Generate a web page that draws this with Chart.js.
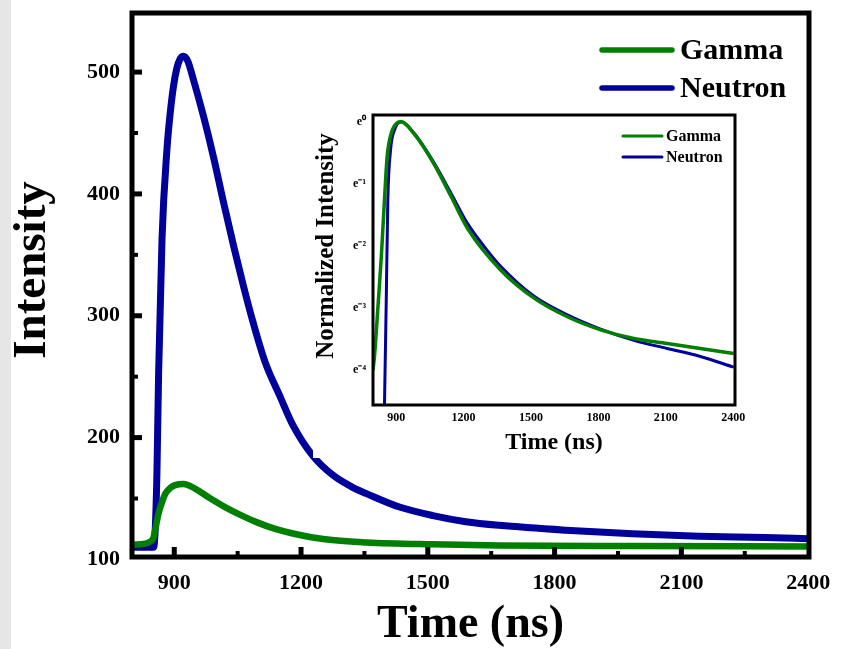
<!DOCTYPE html>
<html>
<head>
<meta charset="utf-8">
<script src="https://cdn.jsdelivr.net/npm/chart.js@4.4.0/dist/chart.umd.min.js"></script>
<style>
body { margin:0; background:#fff; }
#wrap { position:relative; width:846px; height:649px; background:linear-gradient(to right, #e6e6e6 0, #e6e6e6 11px, #fff 11px); }
#main { position:absolute; left:0; top:0; }
#inset { position:absolute; left:313px; top:100px; background:#fff; }
</style>
</head>
<body>
<div id="wrap">
<canvas id="main" width="846" height="649"></canvas>
<canvas id="inset" width="447" height="358"></canvas>
</div>
<script>
// main plot, raw intensity
var gammaTime = [800, 831, 845, 851, 857, 863, 871, 879, 890, 902, 922, 950, 981, 1020, 1060, 1099, 1139, 1178, 1257, 1355, 1512, 1669, 1984, 2402];
var gammaValues = [112, 113, 115, 118, 128, 138, 147, 154, 158.5, 161, 162, 158, 151, 143, 136, 130, 125, 121.5, 116.5, 114, 112.4, 111.5, 111, 110.7];
var neutronTime = [800, 851, 855, 859, 863, 871, 883, 890, 898, 906, 914, 922, 932, 946, 969, 993, 1016, 1040, 1064, 1087, 1115, 1150, 1181, 1228, 1276, 1323, 1355, 1433, 1512, 1590, 1669, 1827, 1984, 2142, 2299, 2402];
var neutronValues = [110, 110, 125, 171, 253, 363, 438, 465, 488, 503, 511, 513, 509, 493, 464, 430, 394, 358, 324, 294, 262, 234, 210, 185, 169, 159, 154, 143, 136, 131, 128, 124, 121, 119, 118, 117];
var xTicks = [900, 1200, 1500, 1800, 2100, 2400];
var xMinor = [1050, 1350, 1650, 1950, 2250];
var yTicks = [100, 200, 300, 400, 500];
var yMinor = [150, 250, 350, 450];

// inset, ln of normalized intensity
var insetGammaTime = [797, 804, 819, 834, 848, 860, 878, 908, 922, 981, 1070, 1144, 1218, 1366, 1514, 1662, 1810, 1958, 2106, 2254, 2402];
var insetGammaValues = [-4.0, -3.76, -2.98, -2.17, -1.26, -0.56, -0.19, -0.01, 0, -0.2, -0.69, -1.2, -1.72, -2.39, -2.84, -3.14, -3.35, -3.49, -3.57, -3.65, -3.73];
var insetNeutronTime = [846, 856, 863, 875, 893, 922, 981, 1070, 1144, 1218, 1292, 1366, 1514, 1662, 1810, 1958, 2106, 2254, 2402];
var insetNeutronValues = [-5, -2.87, -1.26, -0.46, -0.13, 0, -0.19, -0.67, -1.15, -1.64, -2.01, -2.33, -2.81, -3.11, -3.34, -3.52, -3.65, -3.78, -3.95];
var insetYTicks = [0, -1, -2, -3, -4];

var GREEN = '#007f00';
var BLUE = '#00009a';
var SERIF = "'Liberation Serif', 'Times New Roman', serif";

function pairs(xs, ys) {
  var out = [];
  for (var i = 0; i < xs.length; i++) out.push({x: xs[i], y: ys[i]});
  return out;
}

function sup(v) {
  var map = {'0':'\u2070','1':'\u00b9','2':'\u00b2','3':'\u00b3','4':'\u2074','-':'\u207b'};
  var s = String(v), r = '';
  for (var i = 0; i < s.length; i++) r += map[s[i]];
  return r;
}

function noPad(s) { s.paddingTop = 0; s.paddingBottom = 0; s.paddingLeft = 0; s.paddingRight = 0; }

// box round the plot area + inward ticks
var framePlugin = {
  id: 'frame',
  afterDatasetsDraw: function(chart, args, o) {
    var ctx = chart.ctx, a = chart.chartArea;
    ctx.save();
    ctx.fillStyle = '#000';
    if (o.ticks) {
      var sx = chart.scales.x, sy = chart.scales.y;
      o.yMajor.forEach(function(v) {
        var y = sy.getPixelForValue(v);
        if (y < a.bottom - 3) ctx.fillRect(a.left, y - 2.5, 10, 5);
      });
      o.yMinor.forEach(function(v) {
        var y = sy.getPixelForValue(v);
        ctx.fillRect(a.left, y - 2, 6, 4);
      });
      o.xMajor.forEach(function(v) {
        var x = sx.getPixelForValue(v);
        if (x < a.right - 3) ctx.fillRect(x - 2.5, a.bottom - 10, 5, 10);
      });
      o.xMinor.forEach(function(v) {
        var x = sx.getPixelForValue(v);
        ctx.fillRect(x - 2, a.bottom - 6, 4, 6);
      });
    }
    ctx.strokeStyle = '#000';
    ctx.lineWidth = o.width;
    ctx.strokeRect(a.left, a.top, a.right - a.left, a.bottom - a.top);
    ctx.restore();
  }
};

var legendPlugin = {
  id: 'lineLegend',
  afterDraw: function(chart, args, o) {
    var ctx = chart.ctx;
    ctx.save();
    ctx.font = o.font;
    ctx.textBaseline = 'middle';
    ctx.lineCap = 'round';
    chart.data.datasets.forEach(function(ds, i) {
      var y = o.y + i * o.rowH;
      ctx.strokeStyle = ds.borderColor;
      ctx.lineWidth = o.lineWidth;
      ctx.beginPath();
      ctx.moveTo(o.x, y);
      ctx.lineTo(o.x + o.len, y);
      ctx.stroke();
      ctx.fillStyle = '#000';
      ctx.fillText(ds.label, o.x + o.len + o.gap, y + 1);
    });
    // rotated y title, sits a bit above the middle of the axis
    ctx.translate(o.titleX, o.titleY);
    ctx.rotate(-Math.PI / 2);
    ctx.font = o.titleFont;
    ctx.textAlign = 'center';
    ctx.fillText(o.title, 0, 0);
    ctx.restore();
  }
};

var mainChart = new Chart(document.getElementById('main'), {
  type: 'line',
  data: {
    datasets: [
      { label: 'Gamma', data: pairs(gammaTime, gammaValues), borderColor: GREEN, borderWidth: 6.5, pointRadius: 0, cubicInterpolationMode: 'monotone' },
      { label: 'Neutron', data: pairs(neutronTime, neutronValues), borderColor: BLUE, borderWidth: 7, pointRadius: 0, cubicInterpolationMode: 'monotone' }
    ]
  },
  options: {
    responsive: false,
    animation: false,
    layout: { padding: { top: 13, right: 37, left: 0, bottom: 0 } },
    plugins: {
      legend: { display: false },
      tooltip: { enabled: false },
      frame: { width: 5, ticks: true, xMajor: xTicks, xMinor: xMinor, yMajor: yTicks, yMinor: yMinor },
      lineLegend: { x: 602, y: 50, rowH: 38, len: 70, gap: 8, lineWidth: 5.5, font: 'bold 30px ' + SERIF,
        title: 'Intensity', titleX: 33, titleY: 270, titleFont: 'bold 47px ' + SERIF }
    },
    scales: {
      x: {
        type: 'linear', min: 800, max: 2402,
        afterBuildTicks: function(s) { s.ticks = xTicks.map(function(v) { return {value: v}; }); },
        afterFit: function(s) { s.height = 92; noPad(s); },
        grid: { display: false, drawTicks: false },
        border: { display: false },
        ticks: { autoSkip: false, maxRotation: 0, padding: 13, color: '#000', font: { family: SERIF, size: 22, weight: 'bold' },
          callback: function(v) { return String(v); } },
        title: { display: true, text: 'Time (ns)', color: '#000', padding: { top: 0, bottom: -4 }, font: { family: SERIF, size: 46, weight: 'bold', lineHeight: 1.2 } }
      },
      y: {
        type: 'linear', min: 102, max: 548.5,
        afterBuildTicks: function(s) { s.ticks = yTicks.map(function(v) { return {value: v}; }); },
        afterFit: function(s) { s.width = 132; noPad(s); },
        grid: { display: false, drawTicks: false },
        border: { display: false },
        ticks: { autoSkip: false, padding: 12, color: '#000', font: { family: SERIF, size: 22, weight: 'bold' },
          callback: function(v) { return String(v); } }
      }
    }
  },
  plugins: [framePlugin, legendPlugin]
});

var insetChart = new Chart(document.getElementById('inset'), {
  type: 'line',
  data: {
    datasets: [
      { label: 'Gamma', data: pairs(insetGammaTime, insetGammaValues), borderColor: GREEN, borderWidth: 3.5, pointRadius: 0, cubicInterpolationMode: 'monotone' },
      { label: 'Neutron', data: pairs(insetNeutronTime, insetNeutronValues), borderColor: BLUE, borderWidth: 3, pointRadius: 0, cubicInterpolationMode: 'monotone' }
    ]
  },
  options: {
    responsive: false,
    animation: false,
    layout: { padding: { top: 15, right: 25, left: 0, bottom: 0 } },
    plugins: {
      legend: { display: false },
      tooltip: { enabled: false },
      frame: { width: 3, ticks: false },
      lineLegend: { x: 310, y: 36, rowH: 21, len: 39, gap: 4, lineWidth: 3, font: 'bold 16px ' + SERIF,
        title: 'Normalized Intensity', titleX: 14, titleY: 146, titleFont: 'bold 25px ' + SERIF }
    },
    scales: {
      x: {
        type: 'linear', min: 797, max: 2408,
        afterBuildTicks: function(s) { s.ticks = xTicks.map(function(v) { return {value: v}; }); },
        afterFit: function(s) { s.height = 53; noPad(s); },
        grid: { display: false, drawTicks: false },
        border: { display: false },
        ticks: { autoSkip: false, maxRotation: 0, padding: 6, color: '#000', font: { family: SERIF, size: 12, weight: 'bold' },
          callback: function(v) { return String(v); } },
        title: { display: true, text: 'Time (ns)', color: '#000', padding: { top: 0, bottom: 1 }, font: { family: SERIF, size: 24, weight: 'bold', lineHeight: 1.2 } }
      },
      y: {
        type: 'linear', min: -4.56, max: 0.108,
        afterBuildTicks: function(s) { s.ticks = insetYTicks.map(function(v) { return {value: v}; }); },
        afterFit: function(s) { s.width = 60; noPad(s); },
        grid: { display: false, drawTicks: false },
        border: { display: false },
        ticks: { autoSkip: false, padding: 7, color: '#000', font: { family: SERIF, size: 12, weight: 'bold' },
          callback: function(v) { return 'e' + sup(v); } }
      }
    }
  },
  plugins: [framePlugin, legendPlugin]
});
</script>
</body>
</html>
